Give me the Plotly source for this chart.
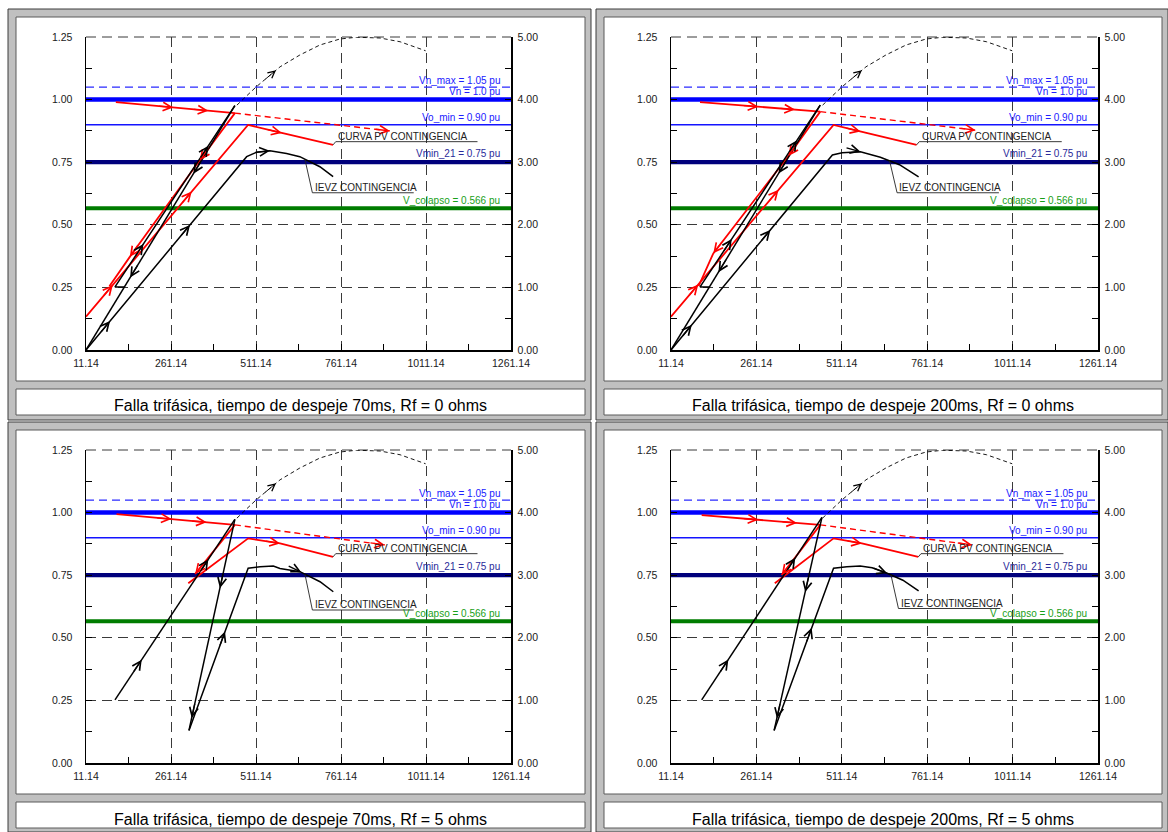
import math
import plotly.graph_objects as go

W, H = 1168, 832
FONT = "Liberation Sans, Arial, sans-serif"

# ---------------- axes ----------------
X_MIN, X_MAX = 11.14, 1261.14
X_TICKS = [11.14, 261.14, 511.14, 761.14, 1011.14, 1261.14]
Y_TICKS = [0.0, 0.25, 0.50, 0.75, 1.00, 1.25]
Y2_TICKS = [0.0, 1.0, 2.0, 3.0, 4.0, 5.0]

# ---------------- reference voltage levels (pu) ----------------
LEVEL_VALUES = [1.05, 1.00, 0.90, 0.75, 0.566]
LEVEL_LABELS = ["Vn_max = 1.05 pu", "Vn = 1.0 pu", "Vo_min = 0.90 pu",
                "Vmin_21 = 0.75 pu", "V_colapso = 0.566 pu"]

# ---------------- PV curve of the contingency (dashed black) ----------------
pv_x = [455, 511, 582, 640, 699, 758, 807, 876, 935, 1010]
pv_y = [0.978, 1.05, 1.131, 1.178, 1.218, 1.242, 1.249, 1.246, 1.231, 1.195]

CAPTIONS = [
    "Falla trifásica, tiempo de despeje 70ms, Rf = 0 ohms",
    "Falla trifásica, tiempo de despeje 200ms, Rf = 0 ohms",
    "Falla trifásica, tiempo de despeje 70ms, Rf = 5 ohms",
    "Falla trifásica, tiempo de despeje 200ms, Rf = 5 ohms",
]

# ---------------- case 1: 70 ms, Rf = 0 ----------------
c1_pre_x, c1_pre_y = [99, 449], [0.990, 0.946]
c1_dash_x, c1_dash_y = [449, 905], [0.946, 0.875]
c1_cont_x, c1_cont_y = [11.14, 487.6, 586.7, 737.6], [0.133, 0.899, 0.867, 0.819]
c1_fall_x, c1_fall_y = [449, 346.4, 140.5, 80], [0.946, 0.759, 0.373, 0.255]
c1_up_x, c1_up_y = [123, 96.4, 449], [0.252, 0.252, 0.976]
c1_down_x, c1_down_y = [449, 11.14], [0.976, 0.0]
c1_rec_x = [11.14, 483.7, 513, 552, 601, 640, 699, 738]
c1_rec_y = [0.0, 0.772, 0.790, 0.796, 0.785, 0.772, 0.732, 0.692]

# ---------------- case 2: 200 ms, Rf = 0 ----------------
c2_pre_x, c2_pre_y = [96, 448], [0.990, 0.952]
c2_dash_x, c2_dash_y = [448, 903], [0.952, 0.878]
c2_cont_x, c2_cont_y = [11.14, 487, 586, 730], [0.133, 0.899, 0.866, 0.819]
c2_fall_x, c2_fall_y = [448, 355, 135, 92], [0.952, 0.775, 0.386, 0.255]
c2_up_x, c2_up_y = [123, 96.2, 448], [0.252, 0.252, 0.978]
c2_down_x, c2_down_y = [448, 11.14], [0.978, 0.0]
c2_rec_x = [11.14, 483.6, 512, 565.6, 624, 680, 736]
c2_rec_y = [0.0, 0.779, 0.788, 0.792, 0.770, 0.740, 0.691]

# ---------------- case 3: 70 ms, Rf = 5 ----------------
c3_pre_x, c3_pre_y = [101, 449], [0.994, 0.951]
c3_dash_x, c3_dash_y = [449, 890], [0.951, 0.871]
c3_cont_x, c3_cont_y = [312, 488, 582, 737.6], [0.718, 0.897, 0.877, 0.823]
c3_fall_x, c3_fall_y = [449, 332], [0.951, 0.755]
c3_up_x, c3_up_y = [96.4, 449], [0.252, 0.973]
c3_down_x, c3_down_y = [449, 314], [0.973, 0.130]
c3_rec_x = [314, 488, 523, 562, 581.6, 640.5, 699.4, 738.5]
c3_rec_y = [0.130, 0.778, 0.784, 0.787, 0.777, 0.764, 0.724, 0.684]

# ---------------- case 4: 200 ms, Rf = 5 ----------------
c4_pre_x, c4_pre_y = [101, 448], [0.990, 0.951]
c4_dash_x, c4_dash_y = [448, 893], [0.951, 0.871]
c4_cont_x, c4_cont_y = [315, 487, 570, 735], [0.718, 0.897, 0.877, 0.823]
c4_fall_x, c4_fall_y = [448, 335], [0.951, 0.751]
c4_up_x, c4_up_y = [101, 453], [0.252, 0.981]
c4_down_x, c4_down_y = [453, 313], [0.981, 0.130]
c4_rec_x = [313, 487, 526, 565, 600, 644, 690, 736]
c4_rec_y = [0.130, 0.778, 0.784, 0.787, 0.780, 0.758, 0.730, 0.687]

CASES = [
    dict(pre=(c1_pre_x, c1_pre_y), dash=(c1_dash_x, c1_dash_y), cont=(c1_cont_x, c1_cont_y),
         fall=(c1_fall_x, c1_fall_y), up=(c1_up_x, c1_up_y), down=(c1_down_x, c1_down_y),
         rec=(c1_rec_x, c1_rec_y)),
    dict(pre=(c2_pre_x, c2_pre_y), dash=(c2_dash_x, c2_dash_y), cont=(c2_cont_x, c2_cont_y),
         fall=(c2_fall_x, c2_fall_y), up=(c2_up_x, c2_up_y), down=(c2_down_x, c2_down_y),
         rec=(c2_rec_x, c2_rec_y)),
    dict(pre=(c3_pre_x, c3_pre_y), dash=(c3_dash_x, c3_dash_y), cont=(c3_cont_x, c3_cont_y),
         fall=(c3_fall_x, c3_fall_y), up=(c3_up_x, c3_up_y), down=(c3_down_x, c3_down_y),
         rec=(c3_rec_x, c3_rec_y)),
    dict(pre=(c4_pre_x, c4_pre_y), dash=(c4_dash_x, c4_dash_y), cont=(c4_cont_x, c4_cont_y),
         fall=(c4_fall_x, c4_fall_y), up=(c4_up_x, c4_up_y), down=(c4_down_x, c4_down_y),
         rec=(c4_rec_x, c4_rec_y)),
]

# where the direction arrows sit along each path (x positions on the path)
ARROWS = [
    dict(pre=[268, 371], dash=[905], cont=[90, 322, 587], fall=[346, 140],
         up=[180, 371], down=[327, 141], rec=[82, 317, 552]),
    dict(pre=[267, 374], dash=[903], cont=[91, 326, 566], fall=[355, 135],
         up=[189, 380], down=[326, 150], rec=[72, 302, 566]),
    dict(pre=[263, 366], dash=[890], cont=[582], fall=[332],
         up=[175, 371], down=[405, 322], rec=[420, 645]),
    dict(pre=[267, 380], dash=[893], cont=[570], fall=[335],
         up=[179, 375], down=[404, 321], rec=[423, 644]),
]
PV_ARROW_X = 570

# label leader geometry: x where the IEVZ leader leaves the curve, underline level
IEVZ_LEADER = [(655, 0.628), (651, 0.628), (655, 0.611), (655, 0.617)]

# ---------------- layout geometry (pixels) ----------------
PLOT_BOXES = [(86, 511, 37, 350), (671, 1098, 37, 350),
              (86, 511, 450, 763), (671, 1098, 450, 763)]
GROUPS = [(8, 9, 591, 420), (596, 9, 1168, 420), (8, 422, 591, 832), (596, 422, 1168, 832)]

GRID_COLOR = "#3a3a3a"
GRID_DASH = "10px,6px"

STYLE = {
    "pre": dict(color="#ff0000", width=1.8, dash="solid"),
    "dash": dict(color="#ff0000", width=1.4, dash="6px,4px"),
    "cont": dict(color="#ff0000", width=1.8, dash="solid"),
    "fall": dict(color="#ff0000", width=1.8, dash="solid"),
    "up": dict(color="#000000", width=1.5, dash="solid"),
    "down": dict(color="#000000", width=1.5, dash="solid"),
    "rec": dict(color="#000000", width=1.5, dash="solid"),
}
LEVEL_STYLE = [
    dict(color="#2a2aff", width=1.3, dash="8px,5px"),
    dict(color="#0000ff", width=4.5, dash="solid"),
    dict(color="#1414ff", width=1.5, dash="solid"),
    dict(color="#00007c", width=4.2, dash="solid"),
    dict(color="#007c00", width=4.2, dash="solid"),
]
LEVEL_TEXT_COLOR = ["#2020ff", "#2020ff", "#2020ff", "#2a2a9a", "#18a018"]
LEVEL_TEXT_Y = [1.076, 1.031, 0.929, 0.783, 0.599]

SX = 425.0 / (X_MAX - X_MIN)   # px per x unit
SY = 313.0 / 1.25              # px per y unit


def point_on_path(xs, ys, xa):
    for i in range(len(xs) - 1):
        x0, x1 = xs[i], xs[i + 1]
        if x0 != x1 and min(x0, x1) - 1e-9 <= xa <= max(x0, x1) + 1e-9:
            t = (xa - x0) / (x1 - x0)
            y = ys[i] + t * (ys[i + 1] - ys[i])
            dx = (x1 - x0) * SX
            dy = (ys[i + 1] - ys[i]) * SY
            n = math.hypot(dx, dy)
            return xa, y, dx / n, dy / n
    return None


def interp(xs, ys, xa):
    p = point_on_path(xs, ys, xa)
    return p[1]


fig = go.Figure()
shapes = []
annotations = []
layout = {}


def px_x(p):
    return p / W


def px_y(p):
    return 1 - p / H


# window frames
for (L, T, R, B) in GROUPS:
    shapes.append(dict(type="rect", xref="paper", yref="paper", layer="below",
                       x0=px_x(L), x1=px_x(R), y0=px_y(B), y1=px_y(T),
                       fillcolor="#c0c0c0", line=dict(color="#3c3c3c", width=1)))
    shapes.append(dict(type="rect", xref="paper", yref="paper", layer="below",
                       x0=px_x(L + 8), x1=px_x(R - 6), y0=px_y(T + 372), y1=px_y(T + 8),
                       fillcolor="#ffffff", line=dict(color="#5a5a5a", width=1)))
    shapes.append(dict(type="rect", xref="paper", yref="paper", layer="below",
                       x0=px_x(L + 8), x1=px_x(R - 6), y0=px_y(T + 406), y1=px_y(T + 380),
                       fillcolor="#ffffff", line=dict(color="#5a5a5a", width=1)))

for k, case in enumerate(CASES):
    n = k + 1
    xid = "x" if n == 1 else f"x{n}"
    yid = "y" if n == 1 else f"y{n}"
    rid = f"y{n + 4}"
    x0p, x1p, y0p, y1p = PLOT_BOXES[k]
    L, T, R, B = GROUPS[k]

    tickfont = dict(family=FONT, size=10.5, color="#1a1a1a")
    layout["xaxis" if n == 1 else f"xaxis{n}"] = dict(
        domain=[px_x(x0p), px_x(x1p)], anchor=yid, range=[X_MIN, X_MAX], automargin=False,
        tickmode="array", tickvals=X_TICKS, ticktext=[f"{v:.2f}" for v in X_TICKS],
        showgrid=True, gridcolor=GRID_COLOR, griddash=GRID_DASH, gridwidth=1,
        showline=True, linecolor="#000000", linewidth=1.5, zeroline=False,
        ticks="inside", ticklen=6, tickcolor="#000000", tickwidth=1,
        minor=dict(tickmode="array", ticks="inside", ticklen=6, tickcolor="#000000",
                   tickvals=[(a + b) / 2 for a, b in zip(X_TICKS[:-1], X_TICKS[1:])],
                   showgrid=False),
        tickfont=tickfont, ticklabelstandoff=3, fixedrange=True)
    layout["yaxis" if n == 1 else f"yaxis{n}"] = dict(
        domain=[px_y(y1p), px_y(y0p)], anchor=xid, range=[0, 1.25], automargin=False,
        tickmode="array", tickvals=Y_TICKS, ticktext=[f"{v:.2f}" for v in Y_TICKS],
        showgrid=True, gridcolor=GRID_COLOR, griddash=GRID_DASH, gridwidth=1,
        showline=True, linecolor="#000000", linewidth=1.5, zeroline=False,
        ticks="inside", ticklen=6, tickcolor="#000000", tickwidth=1,
        minor=dict(tickmode="array", ticks="inside", ticklen=6, tickcolor="#000000",
                   tickvals=[(a + b) / 2 for a, b in zip(Y_TICKS[:-1], Y_TICKS[1:])],
                   showgrid=False),
        tickfont=tickfont, ticklabelstandoff=10, fixedrange=True)
    layout[f"yaxis{n + 4}"] = dict(
        overlaying=yid, anchor=xid, side="right", range=[0, 5], automargin=False,
        tickmode="array", tickvals=Y2_TICKS, ticktext=[f"{v:.2f}" for v in Y2_TICKS],
        showgrid=False, showline=True, linecolor="#000000", linewidth=1.5, zeroline=False,
        ticks="inside", ticklen=6, tickcolor="#000000", tickwidth=1,
        minor=dict(tickmode="array", ticks="inside", ticklen=6, tickcolor="#000000",
                   tickvals=[(a + b) / 2 for a, b in zip(Y2_TICKS[:-1], Y2_TICKS[1:])],
                   showgrid=False),
        tickfont=tickfont, ticklabelstandoff=3, fixedrange=True)

    # dashed top border (grid line at the top of the range)
    shapes.append(dict(type="line", xref=f"{xid} domain", yref=f"{yid} domain",
                       x0=0, x1=1, y0=1, y1=1, layer="below",
                       line=dict(color=GRID_COLOR, width=1, dash=GRID_DASH)))

    # keep the right-hand axis alive
    fig.add_trace(go.Scatter(x=[X_MIN], y=[0], xaxis=xid, yaxis=rid, mode="markers",
                             marker=dict(size=1, opacity=0), hoverinfo="skip", showlegend=False))

    # reference levels and their labels
    for v, lab, st, tc, ty in zip(LEVEL_VALUES, LEVEL_LABELS, LEVEL_STYLE,
                                  LEVEL_TEXT_COLOR, LEVEL_TEXT_Y):
        fig.add_trace(go.Scatter(x=[X_MIN, X_MAX], y=[v, v], xaxis=xid, yaxis=yid,
                                 mode="lines", line=st, hoverinfo="skip", showlegend=False))
        annotations.append(dict(x=X_MAX - 9 / SX, y=ty, xref=xid, yref=yid, text=lab,
                                showarrow=False, xanchor="right", yanchor="middle",
                                font=dict(family=FONT, size=10, color=tc)))

    # dashed PV curve with its arrow
    fig.add_trace(go.Scatter(x=pv_x, y=pv_y, xaxis=xid, yaxis=yid, mode="lines",
                             line=dict(color="#000000", width=0.9, dash="4px,3px"),
                             hoverinfo="skip", showlegend=False))
    arrow_specs = [(pv_x, pv_y, PV_ARROW_X, "#000000", 0.9, 1.5)]

    for key in ["dash", "pre", "cont", "fall", "up", "down", "rec"]:
        xs, ys = case[key]
        st = STYLE[key]
        fig.add_trace(go.Scatter(x=xs, y=ys, xaxis=xid, yaxis=yid, mode="lines",
                                 line=dict(color=st["color"], width=st["width"], dash=st["dash"]),
                                 hoverinfo="skip", showlegend=False))
        for xa in ARROWS[k][key]:
            arrow_specs.append((xs, ys, xa, st["color"], 1.3, 1.3))

    for xs, ys, xa, col, aw, asz in arrow_specs:
        p = point_on_path(xs, ys, xa)
        if p is None:
            continue
        xp, yp, ux, uy = p
        tail = 16.0
        annotations.append(dict(
            x=xp, y=yp, ax=xp - ux * tail / SX, ay=yp - uy * tail / SY,
            xref=xid, yref=yid, axref=xid, ayref=yid, text="", showarrow=True,
            arrowhead=5, arrowsize=asz, arrowwidth=aw,
            arrowcolor=col, standoff=0))

    # "CURVA PV CONTINGENCIA" leader and label
    cx, cy = case["cont"][0][-1], case["cont"][1][-1]
    ly = cy + 0.013
    fig.add_trace(go.Scatter(x=[cx, cx + 8, cx + 425], y=[cy, ly, ly], xaxis=xid, yaxis=yid,
                             mode="lines", line=dict(color="#222222", width=0.9),
                             hoverinfo="skip", showlegend=False))
    annotations.append(dict(x=cx + 9, y=ly, xref=xid, yref=yid, text="CURVA PV CONTINGENCIA",
                            showarrow=False, xanchor="left", yanchor="bottom", yshift=-2,
                            font=dict(family=FONT, size=10, color="#222222")))

    # "IEVZ CONTINGENCIA" leader and label
    ix, iy = IEVZ_LEADER[k]
    rx, ry = case["rec"]
    sy0 = interp(rx, ry, ix)
    fig.add_trace(go.Scatter(x=[ix, ix + 22, ix + 320], y=[sy0, iy, iy], xaxis=xid, yaxis=yid,
                             mode="lines", line=dict(color="#222222", width=0.9),
                             hoverinfo="skip", showlegend=False))
    annotations.append(dict(x=ix + 23, y=iy, xref=xid, yref=yid, text="IEVZ CONTINGENCIA",
                            showarrow=False, xanchor="left", yanchor="bottom", yshift=-2,
                            font=dict(family=FONT, size=10, color="#222222")))

    # caption
    annotations.append(dict(x=px_x((L + 8 + R - 6) / 2), y=px_y(T + 397), xref="paper",
                            yref="paper", text=CAPTIONS[k], showarrow=False,
                            xanchor="center", yanchor="middle",
                            font=dict(family=FONT, size=16, color="#000000")))

fig.update_layout(
    width=W, height=H, autosize=False,
    margin=dict(l=0, r=0, t=0, b=0, pad=0, autoexpand=False),
    paper_bgcolor="#ffffff", plot_bgcolor="rgba(0,0,0,0)",
    showlegend=False, shapes=shapes, annotations=annotations,
    font=dict(family=FONT),
    **layout,
)

fig.write_html("out.html", config=dict(displayModeBar=False, staticPlot=True))
